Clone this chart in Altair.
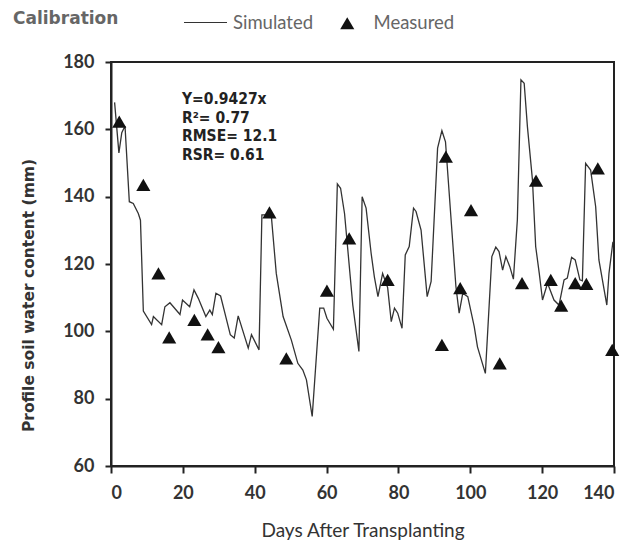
import altair as alt
import pandas as pd

# Simulated profile soil water content (line)
sim_day = [1, 2.2, 3, 3.9, 5.1, 6.2, 7.6, 8.2, 9, 11.3, 11.8, 14.1, 15, 16.4, 19.2, 19.9,
           21.9, 23.1, 24.3, 26.4, 27.5, 28.2, 29.2, 30.5, 31.7, 33.2, 34.3, 35.4, 38.2,
           39.1, 41.2, 42, 44.6, 46, 47.9, 50.2, 52, 53.4, 54.4, 56, 58.1, 59.2, 60.1,
           61.9, 63, 63.9, 65, 67.3, 69, 69.9, 71, 72.4, 73.3, 74.3, 75.6, 77, 78, 78.9,
           79.8, 81, 81.9, 83, 84.2, 84.9, 86.3, 88, 89.1, 90.9, 92.1, 93.1, 96, 96.9,
           97.9, 99.3, 101.1, 102, 104.2, 106, 107.1, 108, 109, 109.9, 111, 112, 113.1,
           114.1, 115, 115.9, 117.3, 118.2, 119.2, 120.1, 121.5, 123.3, 124.7, 126.1, 127,
           128.2, 129.2, 130.5, 131.2, 132.1, 133.5, 134.9, 135.8, 138, 138.6, 139.7]
sim_val = [168, 153, 159, 161, 138.5, 138, 135, 133, 106, 102, 104.4, 102, 107.3, 108.5,
           105, 109.3, 107.3, 112.3, 109.8, 104.4, 106.3, 105, 111.3, 110.5, 105.4, 99, 98,
           104.6, 95, 99, 94.5, 134.6, 134.6, 117.2, 104.4, 97.4, 90.5, 88.5, 85.6, 74.7,
           106.9, 106.9, 103.9, 100.6, 143.8, 142.5, 135, 107.8, 94, 140, 136.6, 123.2,
           116.2, 110.3, 117.2, 113, 102.9, 106.9, 105.4, 100.9, 122.7, 125.2, 136.6, 135.6,
           130.1, 110.3, 114.8, 154.4, 159.6, 156.3, 113.3, 105.4, 111.3, 110.3, 101.4, 95.4,
           87.5, 122.2, 125, 123.7, 118.2, 122.2, 119.2, 115.5, 133.1, 174.7, 173.7, 160.8,
           145, 125.2, 117.2, 109.3, 114.3, 109.3, 107.8, 115.3, 115.8, 122, 121.2, 115.3,
           115, 149.9, 147.9, 137, 121.2, 107.8, 117.2, 126.6]

# Measured profile soil water content (triangles)
meas_day = [2.3, 9, 13.2, 16.2, 23.2, 26.9, 29.9, 44.1, 48.8, 60.1, 66.3, 77, 92.1, 93.2,
            97.2, 100.2, 108.2, 114.4, 118.3, 122.4, 125.3, 129.2, 132.3, 135.5, 139.5]
meas_val = [162.3, 143.5, 117.2, 98.2, 103.4, 99.1, 95.3, 135.3, 92, 112.1, 127.6, 115.3,
            96, 151.9, 112.8, 136, 90.5, 114.3, 144.8, 115.3, 107.6, 114.3, 114.1, 148.4, 94.5]

stats_lines = ["Y=0.9427x", "R\u00b2= 0.77", "RMSE= 12.1", "RSR= 0.61"]
chart_title = "Calibration"

sim_df = pd.DataFrame({"day": sim_day, "swc": sim_val, "series": "Simulated"})
meas_df = pd.DataFrame({"day": meas_day, "swc": meas_val, "series": "Measured"})

xscale = alt.Scale(domain=[0, 140], nice=False, zero=False)
yscale = alt.Scale(domain=[60, 180], nice=False, zero=False)

xaxis = alt.Axis(values=[0, 20, 40, 60, 80, 100, 120, 140], title="Days After Transplanting",
                 grid=False, tickSize=7, tickWidth=2, tickColor="#222", domainColor="#222",
                 domainWidth=2, labelFont="Lato", labelFontSize=18, labelFontWeight="bold",
                 labelColor="#333", labelPadding=11, titleFont="Lato", titleFontSize=19,
                 titleFontWeight="normal", titleColor="#333", titleY=64, titleBaseline="middle")
yaxis = alt.Axis(values=[60, 80, 100, 120, 140, 160, 180],
                 title="Profile soil water content (mm)", grid=False, tickSize=6, tickWidth=2,
                 tickColor="#222", domainColor="#222", domainWidth=2, labelFont="Lato",
                 labelFontSize=18, labelFontWeight="bold", labelColor="#333", labelPadding=11,
                 titleFont="DejaVu Sans", titleFontSize=15.5, titleFontWeight="bold",
                 titleColor="#333", titleX=-83, titleY=233, titleAngle=270,
                 titleAlign="center", titleBaseline="middle")

line = alt.Chart(sim_df).mark_line(strokeWidth=1.3, color="#333").encode(
    x=alt.X("day:Q", scale=xscale, axis=xaxis),
    y=alt.Y("swc:Q", scale=yscale, axis=yaxis),
    color=alt.Color("series:N", scale=alt.Scale(domain=["Simulated"], range=["#333"]),
                    legend=alt.Legend(title=None, orient="none", legendX=72, legendY=-62,
                                      symbolType="stroke", symbolSize=1850,
                                      symbolStrokeWidth=1.2, labelFont="Lato",
                                      labelFontSize=18.5, labelColor="#666", labelOffset=5)),
)

points = alt.Chart(meas_df).mark_point(shape="triangle-up", filled=True, size=200,
                                        color="#111", opacity=1).encode(
    x=alt.X("day:Q", scale=xscale),
    y=alt.Y("swc:Q", scale=yscale),
    shape=alt.Shape("series:N", scale=alt.Scale(domain=["Measured"], range=["triangle-up"]),
                    legend=alt.Legend(title=None, orient="none", legendX=227, legendY=-48,
                                      symbolSize=200, symbolFillColor="#111",
                                      symbolStrokeColor="#111", symbolOpacity=1,
                                      labelFont="Lato", labelFontSize=18.5, labelColor="#666",
                                      labelOffset=17)),
)

stats = alt.Chart(pd.DataFrame({"a": [0]})).mark_text(
    align="left", baseline="top", font="DejaVu Sans Condensed, Liberation Sans",
    fontWeight="bold", fontSize=15.5, lineHeight=18.5, color="#222"
).encode(x=alt.value(71), y=alt.value(30), text=alt.value(stats_lines))

title = alt.Chart(pd.DataFrame({"a": [0]})).mark_text(
    align="left", baseline="middle", font="DejaVu Sans", fontWeight="bold",
    fontSize=17, color="#666"
).encode(x=alt.value(-98), y=alt.value(-43), text=alt.value(chart_title))

chart = alt.layer(line, points, stats, title).resolve_scale(
    color="independent", shape="independent"
).properties(
    width=503, height=404,
    autosize=alt.AutoSizeParams(type="none"),
    padding={"left": 111, "top": 62, "right": 19, "bottom": 80},
).configure_view(stroke="#222", strokeWidth=2)

chart.save("out.html", embed_options={"renderer": "svg", "actions": False})
